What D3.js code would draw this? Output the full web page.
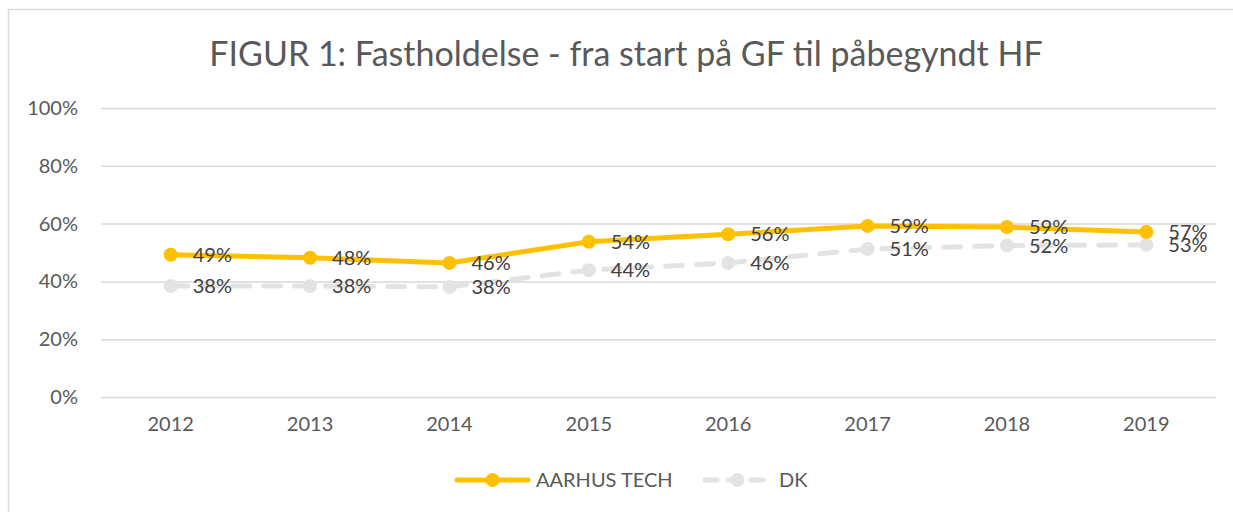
<!DOCTYPE html>
<html>
<head>
<meta charset="utf-8">
<script src="https://cdn.jsdelivr.net/npm/d3@7"></script>
<style>
  body { margin: 0; background: #fff; }
  text { font-family: "Lato", "Liberation Sans", sans-serif; }
</style>
</head>
<body>
<script>
// data
let years = ["2012", "2013", "2014", "2015", "2016", "2017", "2018", "2019"];
let aarhusTech = [49.2, 48.2, 46.4, 53.7, 56.3, 59.2, 58.8, 57.1];
let dk = [38.4, 38.4, 38.1, 43.9, 46.4, 51.2, 52.4, 52.6];
let yTicks = [0, 20, 40, 60, 80, 100];

let W = 1233, H = 512;
let margin = {top: 108, right: 17, bottom: 115, left: 101},
    width = W - margin.left - margin.right,
    height = H - margin.top - margin.bottom;

let svg = d3.select("body")
    .append("svg")
    .attr("width", W)
    .attr("height", H);

// outer frame (right and bottom edges fall outside the picture)
svg.append("rect")
    .attr("x", 8.5).attr("y", 9.5)
    .attr("width", W + 20).attr("height", H + 20)
    .attr("fill", "none")
    .attr("stroke", "#d9d9d9")
    .attr("stroke-width", 1.5);

// title
svg.append("text")
    .attr("x", 626).attr("y", 66)
    .attr("text-anchor", "middle")
    .attr("fill", "#595959")
    .style("font-size", "34px")
    .text("FIGUR 1: Fastholdelse - fra start på GF til påbegyndt HF");

let g = svg.append("g")
    .attr("transform", "translate(" + margin.left + "," + margin.top + ")");

let x = d3.scaleBand()
    .domain(years)
    .range([0, width]);

let y = d3.scaleLinear()
    .domain([0, 100])
    .range([height, 0]);

// gridlines + y axis
let yAxis = g.append("g")
    .call(d3.axisLeft(y)
        .tickValues(yTicks)
        .tickSize(-width)
        .tickPadding(23)
        .tickFormat(function(d) { return d + "%"; }));
yAxis.select(".domain").remove();
yAxis.selectAll("line").attr("stroke", "#d9d9d9").attr("stroke-width", 1.5);
yAxis.selectAll("text").attr("fill", "#595959").style("font-size", "20px");

// x axis
let xAxis = g.append("g")
    .attr("transform", "translate(0," + height + ")")
    .call(d3.axisBottom(x).tickSize(0).tickPadding(20));
xAxis.select(".domain").remove();
xAxis.selectAll("text").attr("fill", "#595959").style("font-size", "20px");

let series = [
    {name: "AARHUS TECH", values: aarhusTech, color: "#ffc000", dash: null},
    {name: "DK", values: dk, color: "#e3e3e3", dash: "17,14"}
];

let cx = function(i) { return x(years[i]) + x.bandwidth() / 2; };

// draw DK first so the gold line sits on top
series.slice().reverse().forEach(function(s) {
    g.append("path")
        .datum(s.values)
        .attr("fill", "none")
        .attr("stroke", s.color)
        .attr("stroke-width", 5)
        .attr("stroke-linecap", "round")
        .attr("stroke-linejoin", "round")
        .attr("stroke-dasharray", s.dash)
        .attr("d", d3.line()
            .x(function(d, i) { return cx(i); })
            .y(function(d) { return y(d); }));

    g.selectAll(null)
        .data(s.values)
        .enter().append("circle")
        .attr("cx", function(d, i) { return cx(i); })
        .attr("cy", function(d) { return y(d); })
        .attr("r", 7)
        .attr("fill", s.color);
});

// data labels
series.forEach(function(s) {
    g.selectAll(null)
        .data(s.values)
        .enter().append("text")
        .attr("x", function(d, i) { return cx(i) + 22; })
        .attr("y", function(d) { return y(d); })
        .attr("dy", "0.36em")
        .attr("fill", "#404040")
        .style("font-size", "20px")
        .text(function(d) { return Math.round(d) + "%"; });
});

// legend
let legend = [
    {name: "AARHUS TECH", color: "#ffc000", dash: null, x0: 457, x1: 528, text: 536},
    {name: "DK", color: "#e3e3e3", dash: "12,11", x0: 705, x1: 766, text: 779}
];
legend.forEach(function(l) {
    svg.append("line")
        .attr("x1", l.x0).attr("x2", l.x1)
        .attr("y1", 480).attr("y2", 480)
        .attr("stroke", l.color)
        .attr("stroke-width", 5)
        .attr("stroke-linecap", "round")
        .attr("stroke-dasharray", l.dash);
    svg.append("circle")
        .attr("cx", (l.x0 + l.x1) / 2 + (l.dash ? 2 : 0)).attr("cy", 480)
        .attr("r", 7)
        .attr("fill", l.color);
    svg.append("text")
        .attr("x", l.text).attr("y", 480)
        .attr("dy", "0.36em")
        .attr("fill", "#595959")
        .style("font-size", "20px")
        .text(l.name);
});
</script>
</body>
</html>
